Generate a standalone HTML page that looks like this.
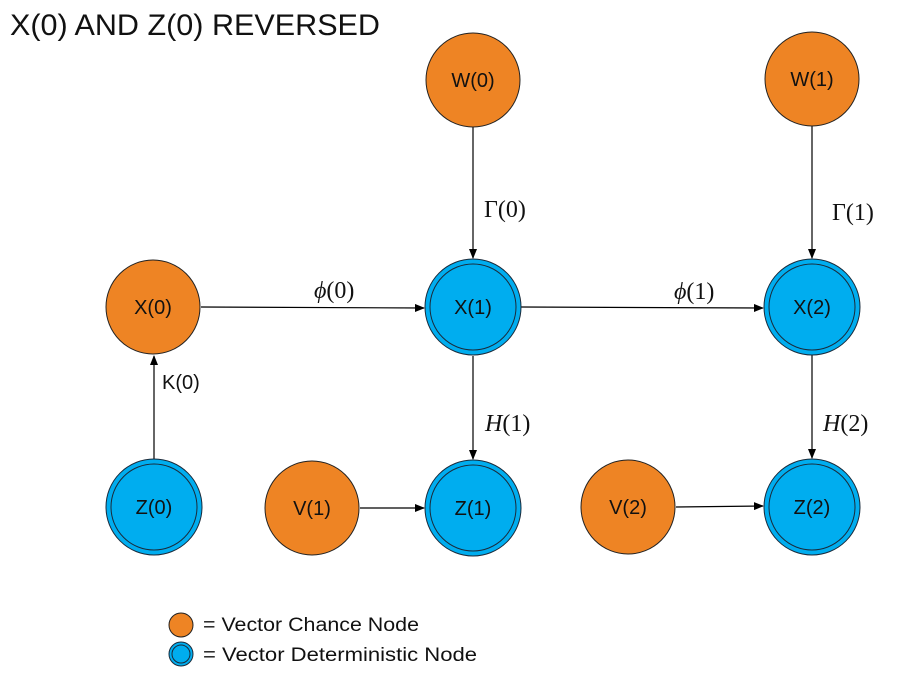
<!DOCTYPE html>
<html><head><meta charset="utf-8"><style>
html,body{margin:0;padding:0;background:#fff;}
svg{display:block;}
.n{font-family:"Liberation Sans",sans-serif;font-size:20px;text-anchor:middle;fill:#111;}
.m{font-family:"Liberation Serif",serif;font-size:24px;fill:#111;}
</style></head><body>
<svg width="924" height="674" viewBox="0 0 924 674" xmlns="http://www.w3.org/2000/svg">
<defs>
<marker id="a" markerWidth="10" markerHeight="8" refX="9" refY="4" orient="auto" markerUnits="userSpaceOnUse">
<path d="M0,0 L10,4 L0,8 z" fill="#000"/></marker>
</defs>
<text x="10" y="35" font-family="Liberation Sans,sans-serif" font-size="30" textLength="370" lengthAdjust="spacingAndGlyphs" fill="#111">X(0) AND Z(0) REVERSED</text>

<g stroke="#000" stroke-width="1.2" fill="none" marker-end="url(#a)">
<line x1="473" y1="127" x2="473" y2="258"/>
<line x1="812" y1="126" x2="812" y2="258"/>
<line x1="201" y1="307" x2="424" y2="308"/>
<line x1="521" y1="307" x2="763" y2="308"/>
<line x1="154" y1="459" x2="154" y2="356"/>
<line x1="473" y1="356" x2="473" y2="459"/>
<line x1="812" y1="355" x2="812" y2="458"/>
<line x1="360" y1="508" x2="424" y2="508"/>
<line x1="676" y1="507" x2="763" y2="506"/>
</g>

<text class="m" x="484" y="217">Γ(0)</text>
<text class="m" x="832" y="220">Γ(1)</text>
<text class="m" x="314" y="298"><tspan font-style="italic">ϕ</tspan>(0)</text>
<text class="m" x="674" y="299"><tspan font-style="italic">ϕ</tspan>(1)</text>
<text x="162" y="389" font-family="Liberation Sans,sans-serif" font-size="20" fill="#111">K(0)</text>
<text class="m" x="485" y="431"><tspan font-style="italic">H</tspan>(1)</text>
<text class="m" x="823" y="431"><tspan font-style="italic">H</tspan>(2)</text>

<g fill="#EE8424" stroke="#222" stroke-width="1">
<circle cx="473" cy="80" r="47"/>
<circle cx="812" cy="79" r="47"/>
<circle cx="153" cy="307" r="47"/>
<circle cx="312" cy="508" r="47"/>
<circle cx="628" cy="507" r="47"/>
</g>
<g fill="#00ADEF" stroke="#1a2a3a" stroke-width="1">
<g><circle cx="473" cy="307" r="48"/><circle cx="473" cy="307" r="43"/></g>
<g><circle cx="812" cy="307" r="48"/><circle cx="812" cy="307" r="43"/></g>
<g><circle cx="154" cy="507" r="48"/><circle cx="154" cy="507" r="43"/></g>
<g><circle cx="473" cy="508" r="48"/><circle cx="473" cy="508" r="43"/></g>
<g><circle cx="812" cy="507" r="48"/><circle cx="812" cy="507" r="43"/></g>
</g>

<text class="n" x="473" y="87">W(0)</text>
<text class="n" x="812" y="86">W(1)</text>
<text class="n" x="153" y="314">X(0)</text>
<text class="n" x="473" y="314">X(1)</text>
<text class="n" x="812" y="314">X(2)</text>
<text class="n" x="154" y="514">Z(0)</text>
<text class="n" x="312" y="515">V(1)</text>
<text class="n" x="473" y="515">Z(1)</text>
<text class="n" x="628" y="514">V(2)</text>
<text class="n" x="812" y="514">Z(2)</text>

<circle cx="181" cy="625" r="12" fill="#EE8424" stroke="#222" stroke-width="1"/>
<circle cx="181" cy="654" r="12" fill="#00ADEF" stroke="#1a2a3a" stroke-width="1"/>
<circle cx="181" cy="654" r="9" fill="#00ADEF" stroke="#1a2a3a" stroke-width="1"/>
<text x="203" y="631" font-family="Liberation Sans,sans-serif" font-size="19" fill="#111" textLength="216" lengthAdjust="spacingAndGlyphs">= Vector Chance Node</text>
<text x="203" y="661" font-family="Liberation Sans,sans-serif" font-size="19" fill="#111" textLength="274" lengthAdjust="spacingAndGlyphs">= Vector Deterministic Node</text>
</svg>
</body></html>
